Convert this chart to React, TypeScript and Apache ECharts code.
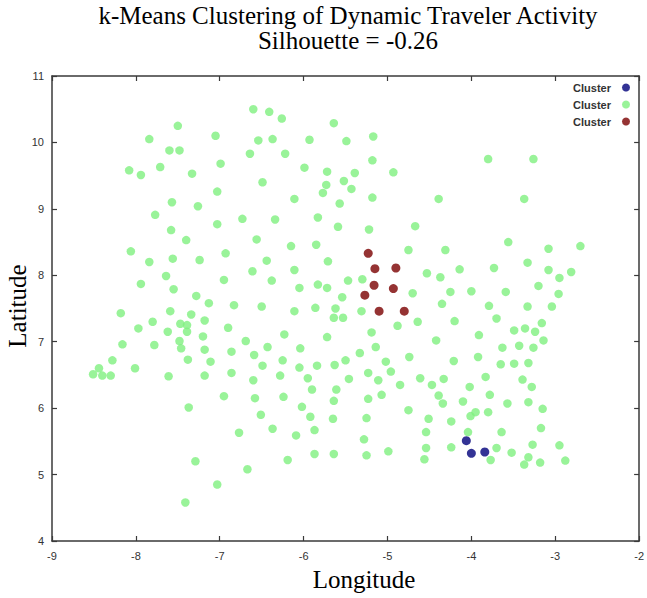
import React, { useEffect, useRef } from "react";
import * as echarts from "echarts";

// Longitude / Latitude pairs per cluster
const clusterBlue: number[][] = [
  [-4.06, 5.51], [-4.0, 5.32], [-3.84, 5.34],
];

const clusterRed: number[][] = [
  [-5.23, 8.33], [-5.15, 8.1], [-4.9, 8.11], [-5.16, 7.85], [-4.93, 7.8],
  [-5.27, 7.7], [-5.1, 7.46], [-4.8, 7.46],
];

const clusterGreenNW: number[][] = [
  [-8.08, 9.58], [-7.94, 9.51], [-7.84, 10.05], [-7.71, 9.63], [-7.6, 9.88], [-7.48, 9.88],
  [-7.5, 10.25], [-7.33, 9.53], [-7.05, 10.1], [-6.99, 9.68], [-7.03, 9.26], [-6.6, 10.5],
  [-6.41, 10.46], [-6.26, 10.36], [-6.54, 10.03], [-6.37, 10.05], [-6.64, 9.83], [-6.22, 9.83],
  [-5.93, 10.04], [-6.49, 9.4], [-5.99, 9.62], [-5.72, 9.56], [-5.73, 9.36], [-5.77, 9.24],
  [-6.11, 9.15], [-7.57, 9.1], [-7.26, 9.04], [-7.77, 8.91], [-7.58, 8.68], [-7.4, 8.53],
  [-7.03, 8.77], [-6.73, 8.85], [-6.34, 8.84], [-5.83, 8.87], [-6.56, 8.54], [-6.15, 8.44],
  [-5.85, 8.46], [-8.06, 8.36], [-7.84, 8.2], [-7.56, 8.25], [-7.24, 8.23], [-6.93, 8.33],
  [-6.44, 8.22], [-5.71, 8.21], [-7.64, 7.99], [-7.94, 7.87], [-7.55, 7.79], [-7.28, 7.69],
  [-7.13, 7.58], [-6.95, 7.93], [-6.61, 8.06], [-6.38, 7.92], [-6.11, 8.08], [-6.05, 7.81],
  [-5.83, 7.86], [-5.72, 7.81],
];

const clusterGreenSW: number[][] = [
  [-6.83, 7.55], [-6.5, 7.53], [-6.11, 7.46], [-5.86, 7.51], [-8.18, 7.43], [-7.59, 7.46],
  [-7.8, 7.3], [-7.97, 7.2], [-7.62, 7.15], [-7.47, 7.27], [-7.39, 7.25], [-7.34, 7.41],
  [-7.39, 7.15], [-7.18, 7.32], [-7.2, 7.08], [-6.9, 7.21], [-8.16, 6.96], [-7.78, 6.95],
  [-7.48, 7.01], [-7.46, 6.9], [-7.18, 6.88], [-6.86, 6.85], [-6.69, 7.01], [-6.43, 6.92],
  [-6.23, 7.11], [-6.04, 6.9], [-8.28, 6.72], [-8.44, 6.6], [-8.51, 6.51], [-8.4, 6.49],
  [-8.3, 6.49], [-8.01, 6.6], [-7.61, 6.48], [-7.38, 6.73], [-7.11, 6.7], [-7.18, 6.49],
  [-6.86, 6.53], [-6.59, 6.8], [-6.49, 6.64], [-6.6, 6.42], [-6.25, 6.72], [-6.28, 6.49],
  [-6.05, 6.61], [-5.95, 6.45], [-5.84, 6.64], [-5.9, 6.28], [-6.95, 6.18], [-6.58, 6.15],
  [-6.24, 6.17], [-7.37, 6.01], [-6.51, 5.9], [-6.02, 6.02], [-5.92, 5.87], [-6.37, 5.69],
  [-6.77, 5.63], [-6.09, 5.59], [-5.87, 5.67], [-5.87, 5.31], [-7.29, 5.2], [-6.67, 5.08],
  [-6.19, 5.22], [-7.03, 4.85], [-7.41, 4.58], [-5.72, 7.07],
];

const clusterGreenNE: number[][] = [
  [-5.64, 10.29], [-5.49, 10.02], [-5.17, 10.09], [-5.18, 9.73], [-5.39, 9.54], [-5.52, 9.42],
  [-5.43, 9.3], [-4.93, 9.55], [-3.8, 9.75], [-3.26, 9.75], [-5.18, 9.17], [-4.39, 9.15],
  [-3.37, 9.15], [-5.57, 9.08], [-5.59, 8.73], [-5.22, 8.69], [-4.67, 8.74], [-4.75, 8.38],
  [-4.31, 8.38], [-3.56, 8.5], [-3.08, 8.4], [-2.7, 8.44], [-4.53, 8.03], [-4.37, 7.97],
  [-4.14, 8.09], [-3.73, 8.11], [-3.33, 8.19], [-3.08, 8.08], [-2.95, 7.96], [-2.81, 8.05],
  [-5.47, 7.92], [-5.3, 7.94], [-5.54, 7.67], [-4.7, 7.73], [-4.25, 7.75], [-4.0, 7.76],
  [-3.59, 7.75], [-3.2, 7.84], [-2.96, 7.72],
];

const clusterGreenSE: number[][] = [
  [-5.62, 7.5], [-5.64, 7.36], [-5.53, 7.36], [-5.31, 7.46], [-4.35, 7.57], [-3.79, 7.54],
  [-3.33, 7.53], [-3.04, 7.53], [-3.7, 7.35], [-4.2, 7.31], [-4.64, 7.3], [-4.88, 7.24],
  [-5.19, 7.14], [-5.14, 6.92], [-5.33, 6.83], [-4.74, 6.77], [-4.42, 7.02], [-3.91, 7.1],
  [-3.49, 7.17], [-3.36, 7.2], [-3.24, 7.15], [-3.16, 7.28], [-3.14, 7.02], [-3.43, 6.94],
  [-3.63, 6.91], [-3.26, 6.91], [-3.92, 6.77], [-4.21, 6.71], [-5.63, 6.65], [-5.5, 6.72],
  [-5.02, 6.7], [-4.96, 6.55], [-5.23, 6.53], [-5.46, 6.44], [-5.11, 6.42], [-4.85, 6.35],
  [-4.61, 6.45], [-4.47, 6.35], [-4.33, 6.44], [-3.83, 6.47], [-3.65, 6.66], [-3.49, 6.67],
  [-3.32, 6.68], [-3.39, 6.43], [-3.28, 6.32], [-5.61, 6.28], [-4.39, 6.19], [-4.02, 6.32],
  [-3.78, 6.2], [-5.64, 6.11], [-5.23, 6.14], [-5.07, 6.2], [-4.34, 6.07], [-4.1, 6.1],
  [-3.57, 6.07], [-3.32, 6.09], [-3.15, 5.99], [-4.75, 5.97], [-4.51, 5.84], [-4.24, 5.8],
  [-4.01, 5.88], [-3.95, 5.94], [-3.8, 5.94], [-5.65, 5.84], [-5.25, 5.85], [-4.54, 5.64],
  [-4.04, 5.64], [-3.64, 5.64], [-3.17, 5.7], [-5.28, 5.53], [-4.54, 5.4], [-4.24, 5.41],
  [-3.7, 5.4], [-3.52, 5.33], [-3.27, 5.45], [-2.95, 5.44], [-5.64, 5.31], [-5.25, 5.29],
  [-4.99, 5.35], [-4.56, 5.23], [-3.77, 5.22], [-3.32, 5.26], [-3.37, 5.15], [-3.18, 5.18],
  [-2.88, 5.21],
];

const clusterGreen = [...clusterGreenNW, ...clusterGreenSW, ...clusterGreenNE, ...clusterGreenSE];

const seriesNames = ["Cluster 1", "Cluster 2", "Cluster 3"];
const legendLabel = "Cluster";
const titleLines = ["k-Means Clustering of Dynamic Traveler Activity", "Silhouette = -0.26"];

export default function App() {
  const ref = useRef<HTMLDivElement>(null);
  useEffect(() => {
    document.body.style.margin = "0";
    const chart = echarts.init(ref.current!, null, { renderer: "svg" });
    const axisLine = { show: true, lineStyle: { color: "#3a3a3a", width: 1.5 } };
    const tick = { show: true, inside: true, length: 5, lineStyle: { color: "#3a3a3a", width: 1.2 } };
    const tickLabel = { color: "#333", fontSize: 11, fontFamily: "Liberation Sans, Arial, sans-serif" };
    const serif = "'Liberation Serif', 'Times New Roman', serif";
    chart.setOption({
      animation: false,
      backgroundColor: "#fff",
      grid: { left: 52, right: 5, top: 76, bottom: 57, containLabel: false },
      legend: {
        data: seriesNames,
        orient: "vertical",
        right: 12,
        top: 77,
        align: "right",
        itemWidth: 8,
        itemHeight: 8,
        itemGap: 6,
        icon: "circle",
        formatter: () => legendLabel,
        textStyle: { fontSize: 11, fontWeight: 600, color: "#333", fontFamily: "Liberation Sans, Arial, sans-serif", padding: [0, 6, 0, 0] },
      },
      xAxis: [
        {
          type: "value", min: -9, max: -2, interval: 1, position: "bottom",
          axisLine, axisTick: tick, splitLine: { show: false },
          axisLabel: { ...tickLabel, margin: 9 },
        },
        {
          type: "value", min: -9, max: -2, interval: 1, position: "top",
          axisLine, axisTick: tick, splitLine: { show: false }, axisLabel: { show: false },
        },
      ],
      yAxis: [
        {
          type: "value", min: 4, max: 11, interval: 1, position: "left",
          axisLine, axisTick: tick, splitLine: { show: false },
          axisLabel: { ...tickLabel, margin: 8 },
        },
        {
          type: "value", min: 4, max: 11, interval: 1, position: "right",
          axisLine, axisTick: tick, splitLine: { show: false }, axisLabel: { show: false },
        },
      ],
      graphic: [
        { type: "text", x: 348, y: 15, style: { text: titleLines[0], font: `25px ${serif}`, fill: "#000", align: "center", verticalAlign: "middle" } },
        { type: "text", x: 348, y: 40, style: { text: titleLines[1], font: `25px ${serif}`, fill: "#000", align: "center", verticalAlign: "middle" } },
        { type: "text", x: 364, y: 579, style: { text: "Longitude", font: `25px ${serif}`, fill: "#000", align: "center", verticalAlign: "middle" } },
        { type: "text", x: 17, y: 306, rotation: Math.PI / 2, style: { text: "Latitude", font: `25px ${serif}`, fill: "#000", align: "center", verticalAlign: "middle" } },
      ],
      series: [
        { name: seriesNames[0], type: "scatter", data: clusterBlue, symbolSize: 9, itemStyle: { color: "#00007a" }, z: 3 },
        { name: seriesNames[1], type: "scatter", data: clusterGreen, symbolSize: 8.5, itemStyle: { color: "#80f080" }, z: 2 },
        { name: seriesNames[2], type: "scatter", data: clusterRed, symbolSize: 9, itemStyle: { color: "#7a0000" }, z: 3 },
      ],
    });
    return () => chart.dispose();
  }, []);
  return <div ref={ref} style={{ width: 647, height: 598 }} />;
}
